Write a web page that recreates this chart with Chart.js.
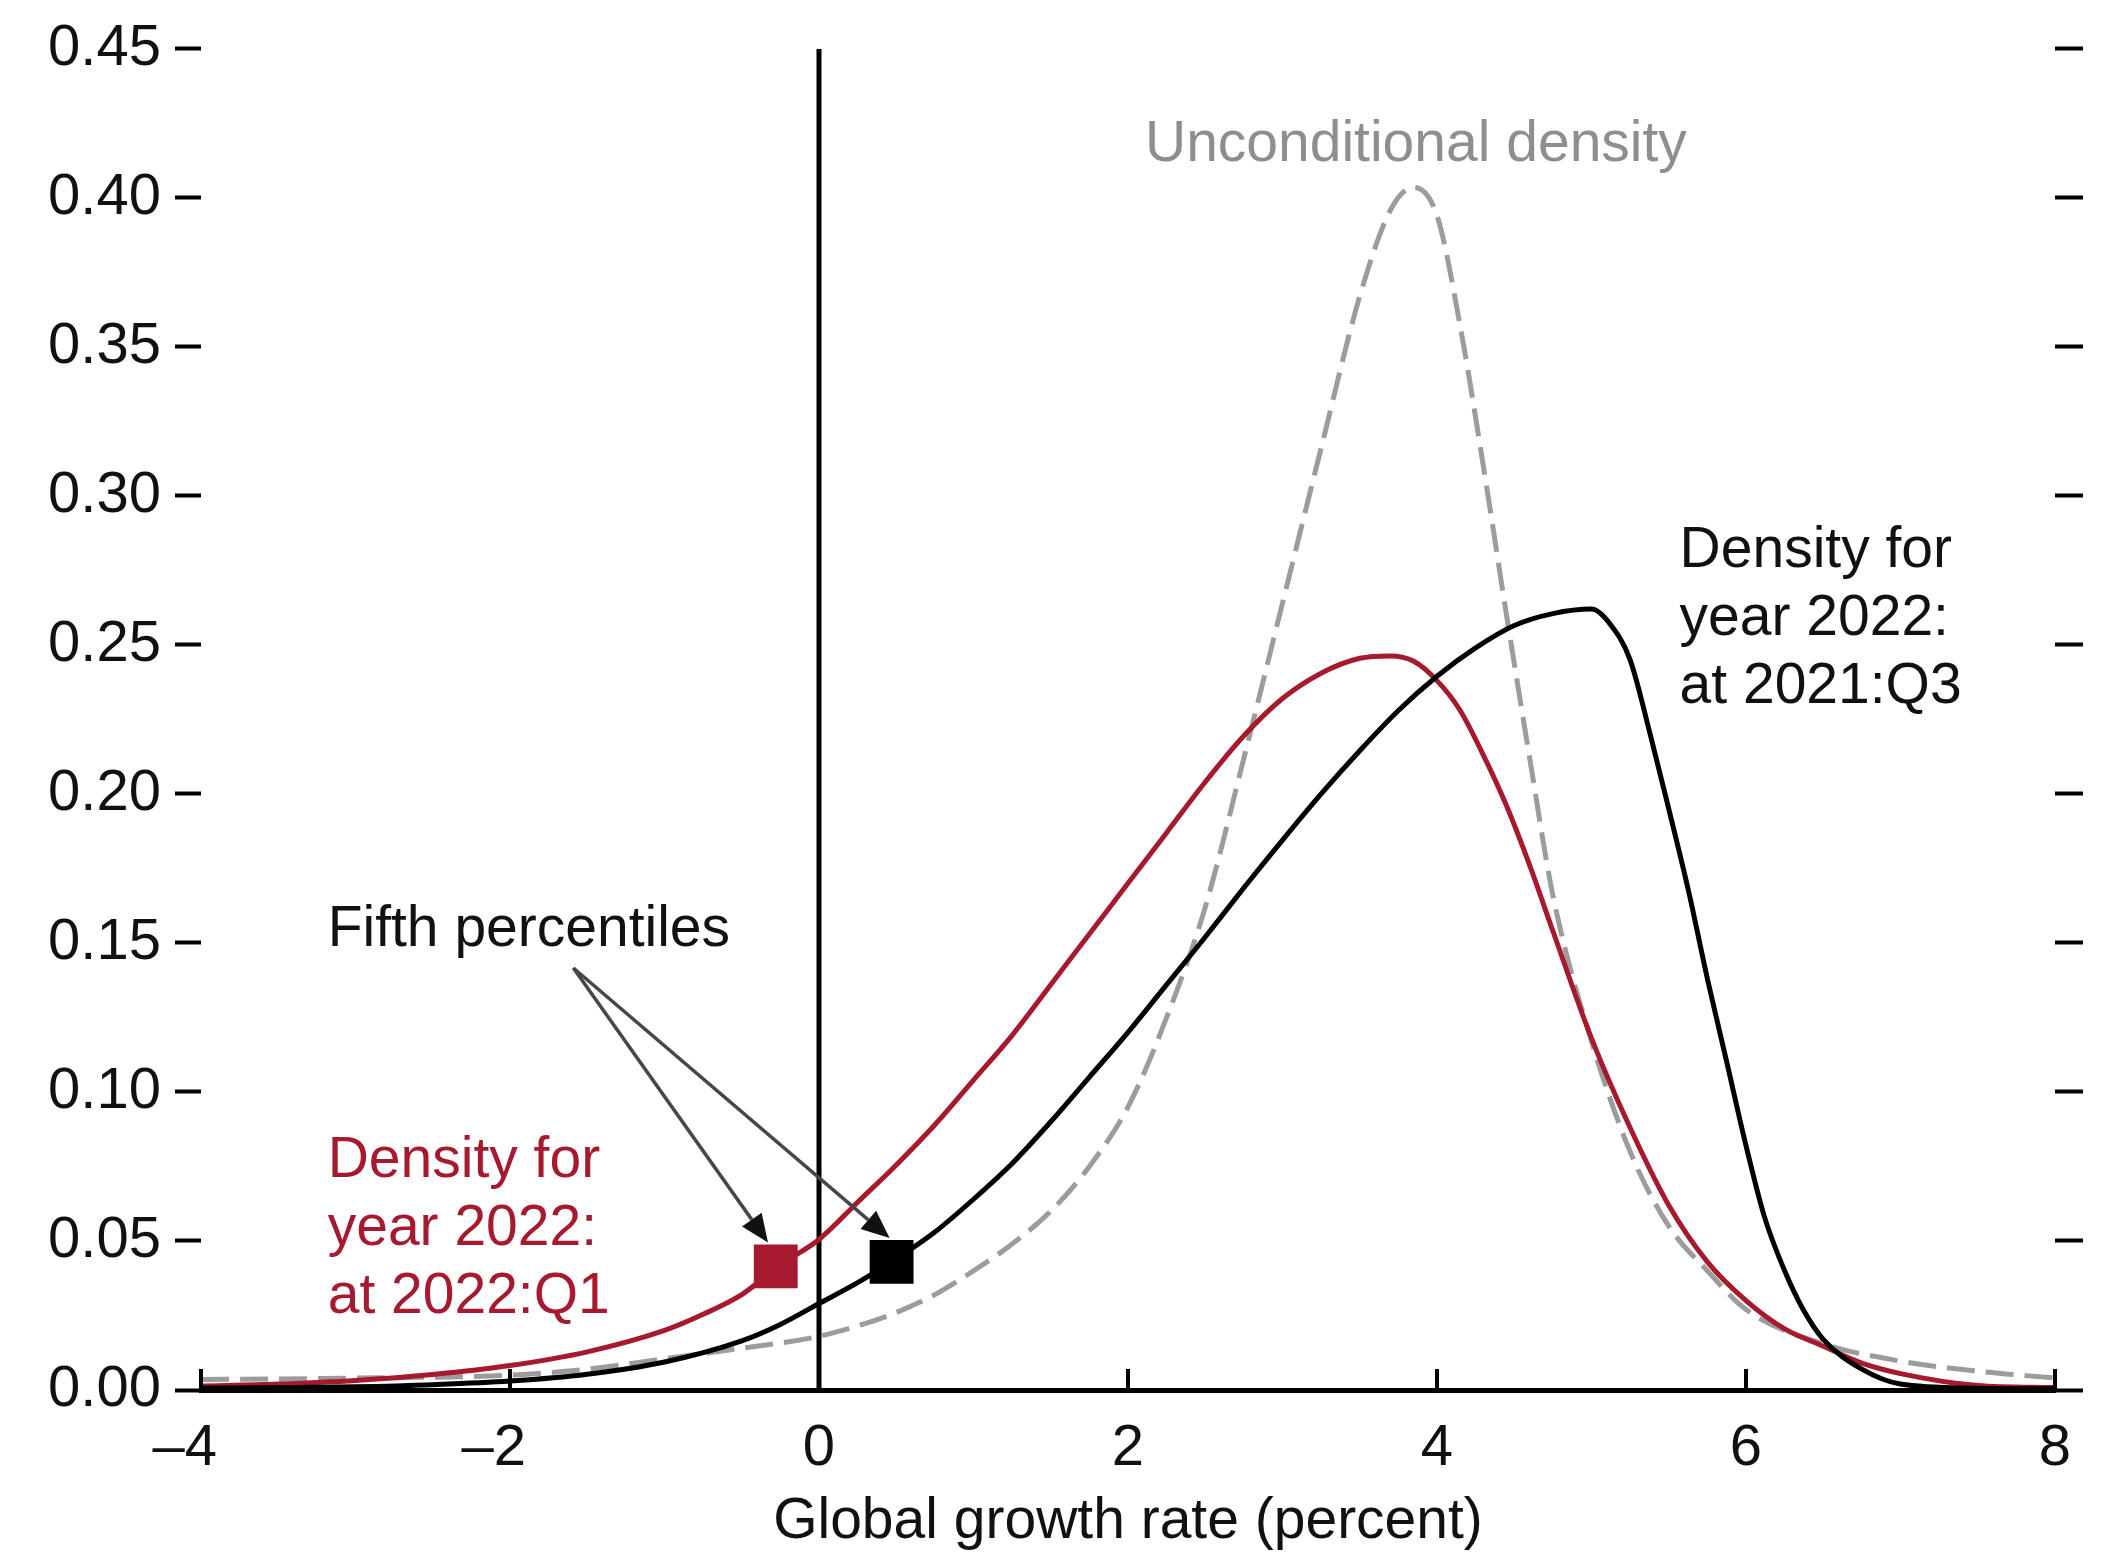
<!DOCTYPE html>
<html lang="en">
<head>
    <meta charset="UTF-8">
    <title>Global growth rate densities</title>
    <script src="https://cdn.jsdelivr.net/npm/chart.js@4.4.1/dist/chart.umd.min.js"></script>
    <style>
        html, body { margin: 0; padding: 0; background: #fff; }
        #chartWrap { width: 2116px; height: 1556px; }
    </style>
</head>
<body>
    <div id="chartWrap">
        <canvas id="densityChart" width="2116" height="1556"></canvas>
    </div>

    <script>
        // axis ticks
        const xTicks = [-4, -2, 0, 2, 4, 6, 8];
        const yMin = 0, yMax = 0.45, yStep = 0.05;

        // unconditional density (grey dashed)
        const uncondX = [-4, -3, -2, -1.5, -1, -0.5, 0, 0.25, 0.5, 0.75, 1, 1.25, 1.5, 1.75, 2, 2.25, 2.5, 2.75, 3, 3.25, 3.5, 3.7, 3.85, 4, 4.15, 4.3, 4.45, 4.6, 4.75, 5, 5.25, 5.5, 5.75, 6, 6.5, 7, 7.5, 8];
        const uncondY = [0.0035, 0.004, 0.005, 0.007, 0.0105, 0.014, 0.018, 0.0215, 0.026, 0.032, 0.040, 0.049, 0.060, 0.075, 0.095, 0.125, 0.162, 0.212, 0.264, 0.316, 0.367, 0.396, 0.4035, 0.394, 0.357, 0.310, 0.260, 0.212, 0.166, 0.117, 0.080, 0.055, 0.040, 0.027, 0.0155, 0.0097, 0.0063, 0.004];

        // density for 2022 at 2021:Q3 (black)
        const q3X = [-4, -3.5, -3, -2.5, -2, -1.5, -1, -0.5, -0.25, 0, 0.25, 0.5, 0.75, 1, 1.25, 1.5, 1.75, 2, 2.25, 2.5, 2.75, 3, 3.25, 3.5, 3.75, 4, 4.25, 4.5, 4.75, 5, 5.12, 5.25, 5.38, 5.5, 5.63, 5.75, 5.88, 6, 6.12, 6.25, 6.37, 6.5, 6.75, 7, 7.5, 8];
        const q3Y = [0.0006, 0.0008, 0.0011, 0.0018, 0.003, 0.0053, 0.0094, 0.0165, 0.022, 0.029, 0.036, 0.044, 0.053, 0.064, 0.076, 0.090, 0.105, 0.120, 0.136, 0.152, 0.1685, 0.1845, 0.200, 0.2145, 0.228, 0.2395, 0.249, 0.2565, 0.2605, 0.262, 0.257, 0.245, 0.220, 0.195, 0.167, 0.138, 0.109, 0.082, 0.058, 0.040, 0.027, 0.017, 0.007, 0.002, 0.0006, 0.0004];

        // density for 2022 at 2022:Q1 (red)
        const q1X = [-4, -3.5, -3, -2.5, -2, -1.5, -1, -0.75, -0.5, -0.25, 0, 0.25, 0.5, 0.75, 1, 1.25, 1.5, 1.75, 2, 2.25, 2.5, 2.75, 3, 3.25, 3.5, 3.7, 3.85, 4, 4.15, 4.3, 4.45, 4.6, 4.75, 5, 5.25, 5.5, 5.75, 6, 6.25, 6.5, 6.75, 7, 7.5, 8];
        const q1Y = [0.0013, 0.002, 0.0032, 0.0052, 0.0082, 0.0128, 0.020, 0.0254, 0.032, 0.042, 0.0505, 0.063, 0.0755, 0.089, 0.104, 0.119, 0.136, 0.153, 0.170, 0.187, 0.204, 0.2195, 0.232, 0.2405, 0.2455, 0.2463, 0.2445, 0.238, 0.228, 0.213, 0.196, 0.176, 0.154, 0.118, 0.088, 0.062, 0.043, 0.030, 0.0205, 0.0147, 0.009, 0.0055, 0.0015, 0.0008];

        // fifth percentiles (red = 2022:Q1, black = 2021:Q3)
        const fifthX = [-0.28, 0.47];
        const fifthY = [0.0415, 0.043];

        const RED = '#a6192e';
        const GREY = '#9c9c9c';
        const FONT = "'Liberation Sans', Arial, sans-serif";

        const toPoints = (xs, ys) => xs.map((x, i) => ({x: x, y: ys[i]}));

        // annotation anchors in data units
        const notes = [
            {lines: ['Unconditional density'], x: 2.11, y: 0.4125, color: '#8e8e8e'},
            {lines: ['Density for', 'year 2022:', 'at 2021:Q3'], x: 5.57, y: 0.276, color: '#111'},
            {lines: ['Fifth percentiles'], x: -3.18, y: 0.149, color: '#111'},
            {lines: ['Density for', 'year 2022:', 'at 2022:Q1'], x: -3.18, y: 0.0715, color: RED}
        ];
        const arrowStart = {x: -1.59, y: 0.1416};
        const arrowEnds = [{x: -0.33, y: 0.0495}, {x: 0.457, y: 0.051}];

        const decorations = {
            id: 'decorations',
            afterDatasetsDraw(chart) {
                const {ctx, scales} = chart;
                const sx = scales.x, sy = scales.y;
                ctx.save();

                // inward tick marks on the x axis
                ctx.strokeStyle = '#000';
                ctx.lineWidth = 4;
                xTicks.forEach(t => {
                    const p = sx.getPixelForValue(t);
                    ctx.beginPath();
                    ctx.moveTo(p, sy.bottom);
                    ctx.lineTo(p, sy.bottom - 21);
                    ctx.stroke();
                });

                // arrows to the fifth percentiles
                const x0 = sx.getPixelForValue(arrowStart.x);
                const y0 = sy.getPixelForValue(arrowStart.y);
                ctx.strokeStyle = '#474747';
                ctx.fillStyle = '#111';
                ctx.lineWidth = 3.5;
                arrowEnds.forEach(e => {
                    const x1 = sx.getPixelForValue(e.x);
                    const y1 = sy.getPixelForValue(e.y);
                    const a = Math.atan2(y1 - y0, x1 - x0);
                    const len = 28, half = 12;
                    const bx = x1 - len * Math.cos(a), by = y1 - len * Math.sin(a);
                    ctx.beginPath();
                    ctx.moveTo(x0, y0);
                    ctx.lineTo(bx, by);
                    ctx.stroke();
                    ctx.beginPath();
                    ctx.moveTo(x1, y1);
                    ctx.lineTo(bx + half * Math.sin(a), by - half * Math.cos(a));
                    ctx.lineTo(bx - half * Math.sin(a), by + half * Math.cos(a));
                    ctx.closePath();
                    ctx.fill();
                });

                // text labels
                ctx.font = '57px ' + FONT;
                ctx.textAlign = 'left';
                ctx.textBaseline = 'alphabetic';
                notes.forEach(n => {
                    ctx.fillStyle = n.color;
                    const px = sx.getPixelForValue(n.x);
                    const py = sy.getPixelForValue(n.y);
                    n.lines.forEach((line, i) => ctx.fillText(line, px, py + i * 68));
                });
                ctx.restore();
            }
        };

        const chart = new Chart(document.getElementById('densityChart'), {
            type: 'line',
            data: {
                datasets: [{
                    label: 'Fifth percentiles',
                    type: 'scatter',
                    data: toPoints(fifthX, fifthY),
                    pointStyle: 'rect',
                    pointRadius: 31,
                    pointBackgroundColor: [RED, '#000'],
                    pointBorderWidth: 0,
                    showLine: false
                }, {
                    label: 'Density for year 2022: at 2021:Q3',
                    data: toPoints(q3X, q3Y),
                    borderColor: '#000',
                    borderWidth: 5,
                    pointRadius: 0,
                    cubicInterpolationMode: 'monotone',
                    fill: false
                }, {
                    label: 'Density for year 2022: at 2022:Q1',
                    data: toPoints(q1X, q1Y),
                    borderColor: RED,
                    borderWidth: 5,
                    pointRadius: 0,
                    cubicInterpolationMode: 'monotone',
                    fill: false
                }, {
                    label: 'zero',
                    data: [{x: 0, y: yMin}, {x: 0, y: yMax}],
                    borderColor: '#000',
                    borderWidth: 5,
                    pointRadius: 0
                }, {
                    label: 'Unconditional density',
                    data: toPoints(uncondX, uncondY),
                    borderColor: GREY,
                    borderWidth: 5,
                    borderDash: [28, 11],
                    pointRadius: 0,
                    cubicInterpolationMode: 'monotone',
                    fill: false
                }]
            },
            options: {
                responsive: false,
                animation: false,
                layout: {padding: {top: 43, left: 0, right: 0, bottom: 0}},
                plugins: {
                    legend: {display: false},
                    tooltip: {enabled: false}
                },
                scales: {
                    x: {
                        type: 'linear',
                        min: xTicks[0],
                        max: xTicks[xTicks.length - 1],
                        afterBuildTicks: s => { s.ticks = xTicks.map(v => ({value: v})); },
                        afterFit: s => { s.height = 166; },
                        grid: {display: false},
                        border: {display: true, color: '#000', width: 5},
                        ticks: {
                            color: '#111',
                            padding: 16,
                            maxRotation: 0,
                            font: {family: FONT, size: 58},
                            callback: v => v < 0 ? '\u2013' + Math.abs(v) + '\u2007' : String(v)
                        },
                        title: {
                            display: true,
                            text: 'Global growth rate (percent)',
                            color: '#111',
                            font: {family: FONT, size: 57},
                            padding: {top: 0, bottom: 0}
                        }
                    },
                    y: {
                        type: 'linear',
                        position: 'left',
                        min: yMin,
                        max: yMax,
                        afterFit: s => { s.width = 201; },
                        border: {display: false},
                        grid: {drawOnChartArea: false, drawTicks: true, tickLength: 26, tickWidth: 4, tickColor: '#000'},
                        ticks: {
                            stepSize: yStep,
                            padding: 14,
                            color: '#111',
                            font: {family: FONT, size: 58},
                            callback: v => v.toFixed(2)
                        }
                    },
                    y2: {
                        type: 'linear',
                        position: 'right',
                        min: yMin,
                        max: yMax,
                        afterFit: s => { s.width = 61; },
                        border: {display: false},
                        grid: {drawOnChartArea: false, drawTicks: true, tickLength: 28, tickWidth: 4, tickColor: '#000'},
                        ticks: {stepSize: yStep, display: false}
                    }
                }
            },
            plugins: [decorations]
        });
    </script>
</body>
</html>
